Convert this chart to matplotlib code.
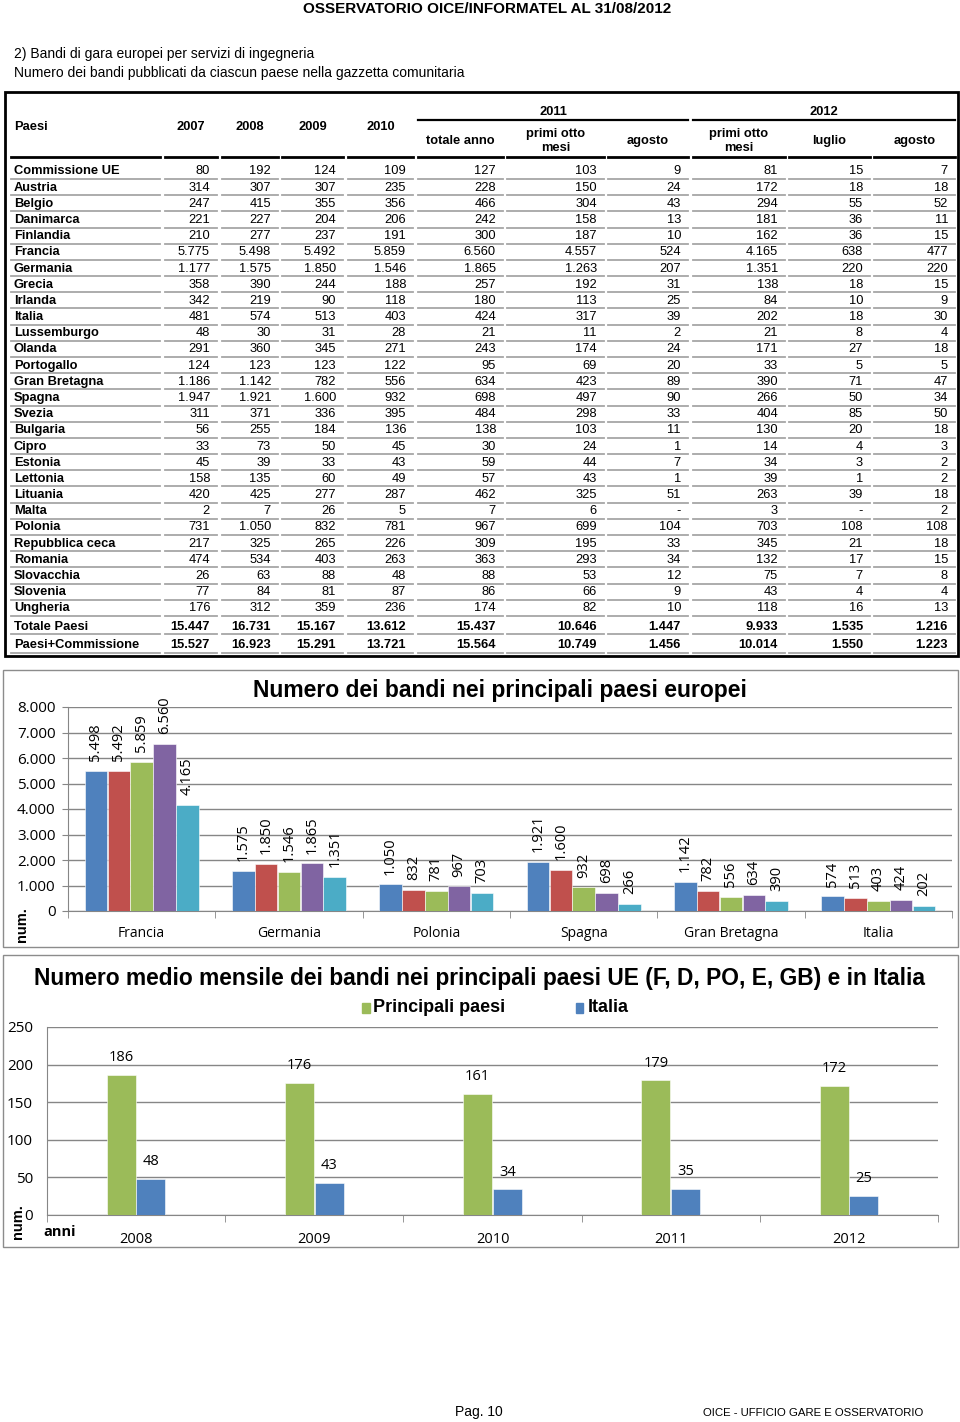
import numpy as np
import matplotlib
matplotlib.use('Agg')
from matplotlib import pyplot as plt
from matplotlib.patches import Rectangle

# ---- table data ----
paesi = ['Commissione UE', 'Austria', 'Belgio', 'Danimarca', 'Finlandia', 'Francia',
         'Germania', 'Grecia', 'Irlanda', 'Italia', 'Lussemburgo', 'Olanda', 'Portogallo',
         'Gran Bretagna', 'Spagna', 'Svezia', 'Bulgaria', 'Cipro', 'Estonia', 'Lettonia',
         'Lituania', 'Malta', 'Polonia', 'Repubblica ceca', 'Romania', 'Slovacchia',
         'Slovenia', 'Ungheria', 'Totale Paesi', 'Paesi+Commissione']
c2007 = [80, 314, 247, 221, 210, 5775, 1177, 358, 342, 481, 48, 291, 124, 1186, 1947, 311,
         56, 33, 45, 158, 420, 2, 731, 217, 474, 26, 77, 176, 15447, 15527]
c2008 = [192, 307, 415, 227, 277, 5498, 1575, 390, 219, 574, 30, 360, 123, 1142, 1921, 371,
         255, 73, 39, 135, 425, 7, 1050, 325, 534, 63, 84, 312, 16731, 16923]
c2009 = [124, 307, 355, 204, 237, 5492, 1850, 244, 90, 513, 31, 345, 123, 782, 1600, 336,
         184, 50, 33, 60, 277, 26, 832, 265, 403, 88, 81, 359, 15167, 15291]
c2010 = [109, 235, 356, 206, 191, 5859, 1546, 188, 118, 403, 28, 271, 122, 556, 932, 395,
         136, 45, 43, 49, 287, 5, 781, 226, 263, 48, 87, 236, 13612, 13721]
c2011_tot = [127, 228, 466, 242, 300, 6560, 1865, 257, 180, 424, 21, 243, 95, 634, 698, 484,
             138, 30, 59, 57, 462, 7, 967, 309, 363, 88, 86, 174, 15437, 15564]
c2011_8m = [103, 150, 304, 158, 187, 4557, 1263, 192, 113, 317, 11, 174, 69, 423, 497, 298,
            103, 24, 44, 43, 325, 6, 699, 195, 293, 53, 66, 82, 10646, 10749]
c2011_ago = [9, 24, 43, 13, 10, 524, 207, 31, 25, 39, 2, 24, 20, 89, 90, 33,
             11, 1, 7, 1, 51, None, 104, 33, 34, 12, 9, 10, 1447, 1456]
c2012_8m = [81, 172, 294, 181, 162, 4165, 1351, 138, 84, 202, 21, 171, 33, 390, 266, 404,
            130, 14, 34, 39, 263, 3, 703, 345, 132, 75, 43, 118, 9933, 10014]
c2012_lug = [15, 18, 55, 36, 36, 638, 220, 18, 10, 18, 8, 27, 5, 71, 50, 85,
             20, 4, 3, 1, 39, None, 108, 21, 17, 7, 4, 16, 1535, 1550]
c2012_ago = [7, 18, 52, 11, 15, 477, 220, 15, 9, 30, 4, 18, 5, 47, 34, 50,
             18, 3, 2, 2, 18, 2, 108, 18, 15, 8, 4, 13, 1216, 1223]
columns = [c2007, c2008, c2009, c2010, c2011_tot, c2011_8m, c2011_ago,
           c2012_8m, c2012_lug, c2012_ago]
col_headers = ['2007', '2008', '2009', '2010', 'totale anno', 'primi otto\nmesi', 'agosto',
               'primi otto\nmesi', 'luglio', 'agosto']

# ---- chart 1 data ----
paesi_chart = ['Francia', 'Germania', 'Polonia', 'Spagna', 'Gran Bretagna', 'Italia']
anni_serie = ['2008', '2009', '2010', '2011', '2012']
v2008 = [5498, 1575, 1050, 1921, 1142, 574]
v2009 = [5492, 1850, 832, 1600, 782, 513]
v2010 = [5859, 1546, 781, 932, 556, 403]
v2011 = [6560, 1865, 967, 698, 634, 424]
v2012 = [4165, 1351, 703, 266, 390, 202]

# ---- chart 2 data ----
anni = ['2008', '2009', '2010', '2011', '2012']
principali = [186, 176, 161, 179, 172]
italia = [48, 43, 34, 35, 25]

colors = ['#4F81BD', '#C0504D', '#9BBB59', '#8064A2', '#4BACC6']
ARIAL = ['Liberation Sans', 'DejaVu Sans']
NARROW = ['Liberation Sans Narrow', 'Liberation Sans', 'DejaVu Sans']
CAL = ['Open Sans', 'DejaVu Sans']


def fmt(v):
    if v is None:
        return '-'
    return f'{v:,}'.replace(',', '.')


W, H = 960, 1422
fig = plt.figure(figsize=(W / 100, H / 100), dpi=100)
page = fig.add_axes([0, 0, 1, 1])
page.set_xlim(0, W)
page.set_ylim(H, 0)
page.axis('off')

# header
page.text(487, 9, 'OSSERVATORIO OICE/INFORMATEL AL 31/08/2012', ha='center', va='center',
          fontsize=11, fontweight='bold', family=NARROW)
page.text(14, 54, '2) Bandi di gara europei per servizi di ingegneria', va='center',
          fontsize=10, family=NARROW)
page.text(14, 73, 'Numero dei bandi pubblicati da ciascun paese nella gazzetta comunitaria',
          va='center', fontsize=10, family=NARROW)

# ---- table ----
page.add_patch(Rectangle((5, 92), 953, 564, fill=False, ec='black', lw=2))
lefts = [11, 165, 222, 282, 348, 418, 507, 608, 693, 789, 874]
rights = [160, 217, 278, 343, 413, 503, 604, 688, 785, 870, 955]
row_y = np.r_[171.5 + 16.18 * np.arange(28), 626.5, 645.5]
fs = 9.3

page.text(14, 127, 'Paesi', va='center', fontsize=fs, fontweight='bold', family=ARIAL)
for j, h in enumerate(col_headers):
    cx = (lefts[j + 1] + rights[j + 1]) / 2
    if j < 4:
        yy = 127
    else:
        yy = 141
    page.text(cx, yy, h, ha='center', va='center', fontsize=fs, fontweight='bold',
              family=ARIAL, linespacing=1.3)
page.text((418 + 688) / 2, 112, '2011', ha='center', va='center', fontsize=fs,
          fontweight='bold', family=ARIAL)
page.text((693 + 955) / 2, 112, '2012', ha='center', va='center', fontsize=fs,
          fontweight='bold', family=ARIAL)
page.plot([418, 688], [120, 120], color='black', lw=1.6)
page.plot([693, 955], [120, 120], color='black', lw=1.6)
for l, r in zip(lefts, rights):
    page.plot([l, r], [157, 157], color='black', lw=2)

for i, name in enumerate(paesi):
    y = row_y[i]
    page.text(14, y, name, va='center', fontsize=fs, fontweight='bold', family=ARIAL)
    bold = 'bold' if i >= 28 else 'normal'
    for j, col in enumerate(columns):
        page.text(rights[j + 1] - 7, y, fmt(col[i]), ha='right', va='center',
                  fontsize=fs, fontweight=bold, family=ARIAL)
    for l, r in zip(lefts, rights):
        page.plot([l, r], [y + 7.5, y + 7.5], color='#a6a6a6', lw=1.3)

# ---- chart 1 ----
page.add_patch(Rectangle((3, 670), 955, 277, fill=False, ec='#8c8c8c', lw=1))
page.text(500, 691, 'Numero dei bandi nei principali paesi europei', ha='center',
          va='center', fontsize=16.5, fontweight='bold', family=ARIAL)
leg_x = [305, 383, 462, 546, 624]
for k, (lab, c) in enumerate(zip(anni_serie, colors)):
    page.add_patch(Rectangle((leg_x[k], 718), 8, 8, color=c))
    page.text(leg_x[k] + 12, 722, lab, va='center', fontsize=13 if k == 2 else 10.5,
              fontweight='bold', family=ARIAL)

ax1 = fig.add_axes([68 / W, 1 - 911 / H, (952 - 68) / W, (911 - 707) / H])
series = [v2008, v2009, v2010, v2011, v2012]
x = np.arange(len(paesi_chart))
bw = 0.152
for k, vals in enumerate(series):
    xs = x + (k - 2) * 0.155
    ax1.bar(xs, vals, width=bw, color=colors[k], zorder=3, ec='white', lw=0.4)
    for xi, v in zip(xs, vals):
        ax1.annotate(fmt(v), (xi, v), xytext=(0, 7), textcoords='offset points',
                     rotation=90, ha='center', va='bottom', fontsize=10.5, family=CAL)
ax1.set_xlim(-0.5, len(paesi_chart) - 0.5)
ax1.set_ylim(0, 8000)
ax1.set_yticks(np.arange(0, 8001, 1000))
ax1.set_yticklabels([fmt(v) for v in range(0, 8001, 1000)], family=CAL, fontsize=11)
ax1.set_xticks(x)
ax1.set_xticklabels(paesi_chart, family=CAL, fontsize=10)
ax1.set_xticks(np.arange(-0.5, len(paesi_chart)), minor=True)
ax1.tick_params(axis='x', which='major', length=0, pad=11)
ax1.tick_params(axis='x', which='minor', length=5, color='#868686')
ax1.tick_params(axis='y', length=4, color='#868686', pad=5)
ax1.grid(axis='y', color='#868686', lw=1, zorder=0)
for s in ['top', 'right']:
    ax1.spines[s].set_visible(False)
for s in ['left', 'bottom']:
    ax1.spines[s].set_color('#868686')
page.text(22, 925, 'num.', rotation=90, ha='center', va='center', fontsize=10.5,
          fontweight='bold', family=ARIAL)

# ---- chart 2 ----
page.add_patch(Rectangle((3, 955), 955, 292, fill=False, ec='#8c8c8c', lw=1))
page.text(480, 978, 'Numero medio mensile dei bandi nei principali paesi UE (F, D, PO, E, GB) e in Italia',
          ha='center', va='center', fontsize=16.4, fontweight='bold', family=NARROW)
page.add_patch(Rectangle((362, 1003), 8, 10, color=colors[2]))
page.text(373, 1008, 'Principali paesi', va='center', fontsize=13, fontweight='bold',
          family=NARROW)
page.add_patch(Rectangle((576, 1003), 7, 10, color=colors[0]))
page.text(588, 1008, 'Italia', va='center', fontsize=13, fontweight='bold', family=NARROW)

ax2 = fig.add_axes([47 / W, 1 - 1215 / H, (938 - 47) / W, (1215 - 1027) / H])
x2 = np.arange(len(anni))
bw2 = 0.163
for xs, vals, c in [(x2 - 0.083, principali, colors[2]), (x2 + 0.083, italia, colors[0])]:
    ax2.bar(xs, vals, width=bw2, color=c, zorder=3, ec='white', lw=0.4)
    for xi, v in zip(xs, vals):
        ax2.annotate(str(v), (xi, v), xytext=(0, 7), textcoords='offset points',
                     ha='center', va='bottom', fontsize=10.5, family=CAL)
ax2.set_xlim(-0.5, len(anni) - 0.5)
ax2.set_ylim(0, 250)
ax2.set_yticks(np.arange(0, 251, 50))
ax2.set_yticklabels([str(v) for v in range(0, 251, 50)], family=CAL, fontsize=11)
ax2.set_xticks(x2)
ax2.set_xticklabels(anni, family=CAL, fontsize=10.5)
ax2.set_xticks(np.arange(-0.5, len(anni)), minor=True)
ax2.tick_params(axis='x', which='major', length=0, pad=12)
ax2.tick_params(axis='x', which='minor', length=5, color='#868686')
ax2.tick_params(axis='y', length=0, pad=10)
ax2.grid(axis='y', color='#868686', lw=1, zorder=0)
for s in ['top', 'right']:
    ax2.spines[s].set_visible(False)
for s in ['left', 'bottom']:
    ax2.spines[s].set_color('#868686')
page.text(18, 1222, 'num.', rotation=90, ha='center', va='center', fontsize=10.5,
          fontweight='bold', family=ARIAL)
page.text(43, 1232, 'anni', va='center', fontsize=10.5, fontweight='bold', family=CAL)

# footer
page.text(455, 1412, 'Pag. 10', va='center', fontsize=10, family=ARIAL)
page.text(703, 1413, 'OICE - UFFICIO GARE E OSSERVATORIO', va='center', fontsize=8.2,
          family=NARROW)

fig.savefig('out.png', dpi=100)
